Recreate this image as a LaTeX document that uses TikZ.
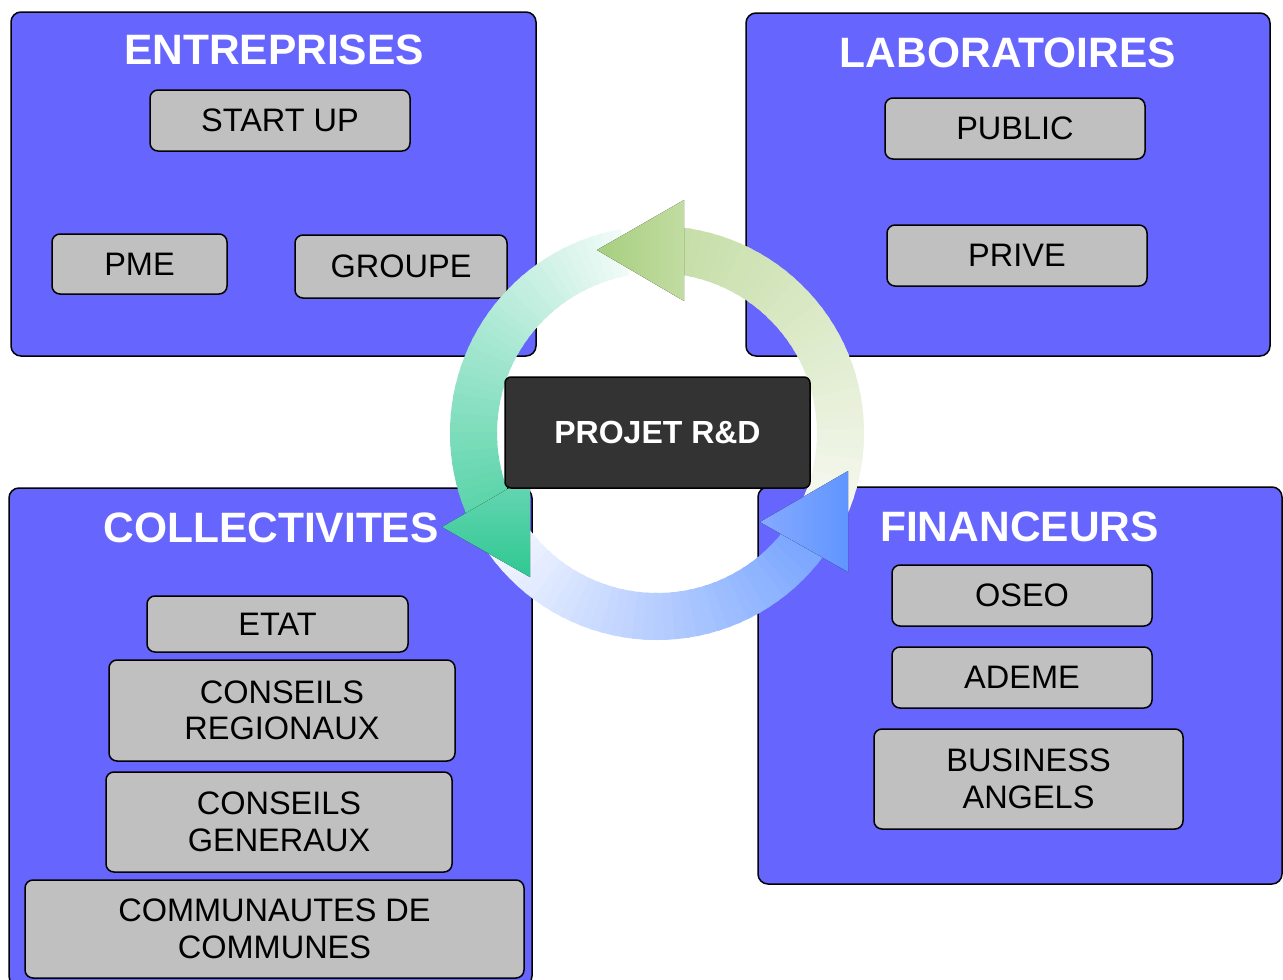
\documentclass[tikz,border=0pt]{standalone}
\usepackage{fontspec}
\setmainfont{Liberation Sans}
\usepackage{tikz}
\definecolor{groupblue}{HTML}{6666FF}
\definecolor{itemgray}{HTML}{C0C0C0}
\definecolor{projdark}{HTML}{333333}
\definecolor{greentail}{HTML}{F6F8F0}
\definecolor{greenhead}{HTML}{C2DCA2}
\definecolor{greentip}{HTML}{A6CF7E}
\definecolor{tealtail}{HTML}{F0FAF7}
\definecolor{tealhead}{HTML}{52D2A6}
\definecolor{tealtop}{HTML}{6AD6B4}
\definecolor{tealtip}{HTML}{2EC892}
\definecolor{bluetail}{HTML}{F2F5FF}
\definecolor{bluehead}{HTML}{6E9EFF}
\definecolor{bluetip}{HTML}{86AAFF}
\definecolor{bluebase}{HTML}{6095FF}
\tikzset{node distance=82pt, auto,
  groupbox/.style={draw=black, line width=1.5pt, fill=groupblue, rounded corners=10pt, inner sep=0pt},
  grouptitle/.style={text=white, font=\bfseries\fontsize{42.5}{48}\selectfont},
  itembox/.style={draw=black, line width=1.5pt, fill=itemgray, rounded corners=8pt, inner sep=0pt,
    align=center, font=\fontsize{32.5}{36.5}\selectfont}}
% ring part: start angle, end angle, tail colour, head colour
\newcommand{\ringpart}[4]{%
  \foreach \k in {0,...,39}{
    \pgfmathsetmacro{\ra}{#1+(#2-#1)*\k/40}
    \pgfmathsetmacro{\rb}{#1+(#2-#1)*(\k+1.4)/40}
    \pgfmathtruncatemacro{\rp}{100*\k/39}
    \fill[#4!\rp!#3] (\ra:207pt) arc[start angle=\ra, end angle=\rb, radius=207pt]
      -- (\rb:160pt) arc[start angle=\rb, end angle=\ra, radius=160pt] -- cycle;
  }}
\begin{document}
\begin{tikzpicture}[x=1pt, y=1pt]
  \useasboundingbox (0,0) rectangle (1283,-980);
  % groups
  \node[groupbox, minimum width=525pt, minimum height=344pt] (ent) at (273.5,-184) {};
  \node[groupbox, minimum width=524pt, minimum height=343pt] (lab) at (1008,-184.5) {};
  \node[groupbox, minimum width=523pt, minimum height=498pt] (col) at (270.5,-737) {};
  \node[groupbox, minimum width=524pt, minimum height=397pt] (fin) at (1020,-685.5) {};
  \node[grouptitle] (entT) at (274,-50) {ENTREPRISES};
  \node[grouptitle] (labT) at (1008,-53) {LABORATOIRES};
  \node[grouptitle] (colT) at (271,-528) {COLLECTIVITES};
  \node[grouptitle] (finT) at (1019.5,-527) {FINANCEURS};
  % entreprises
  \node[itembox, minimum width=260pt, minimum height=61pt] (startup) at (280,-120.5) {START UP};
  \node[itembox, minimum width=175pt, minimum height=60pt] (pme) at (139.5,-264) {PME};
  \node[itembox, minimum width=212pt, minimum height=63pt] (groupe) at (401,-266.5) {GROUPE};
  % laboratoires
  \node[itembox, minimum width=260pt, minimum height=61pt] (public) at (1015,-128.5) {PUBLIC};
  \node[itembox, minimum width=260pt, minimum height=61pt] (prive) at (1017,-255.5) {PRIVE};
  % collectivites
  \node[itembox, minimum width=261pt, minimum height=56pt] (etat) at (277.5,-624) {ETAT};
  \node[itembox, minimum width=346pt, minimum height=101pt] (regio) at (282,-710.5) {CONSEILS\\REGIONAUX};
  \node[itembox, minimum width=346pt, minimum height=100pt] (gene) at (279,-822) {CONSEILS\\GENERAUX};
  \node[itembox, minimum width=499pt, minimum height=98pt] (comm) at (274.5,-929) {COMMUNAUTES DE\\COMMUNES};
  % financeurs
  \node[itembox, minimum width=260pt, minimum height=61pt] (oseo) at (1022,-595.5) {OSEO};
  \node[itembox, minimum width=260pt, minimum height=61pt] (ademe) [below of=oseo] {ADEME};
  \node[itembox, minimum width=309pt, minimum height=100pt] (angels) at (1028.5,-779) {BUSINESS\\ANGELS};
  % cycle
  \begin{scope}[shift={(657,-433)}]
    \ringpart{215}{335}{bluetail}{bluehead}
    \ringpart{-25}{92}{greentail}{greenhead}
    \ringpart{100}{210}{tealtail}{tealhead}
  \end{scope}
  \fill[left color=greentip, right color=greenhead] (597,-250) -- (684,-200) -- (684,-301) -- cycle;
  \fill[top color=tealtop, bottom color=tealtip] (442,-527) -- (530,-476) -- (530,-577) -- cycle;
  \fill[left color=bluetip, right color=bluebase] (760,-522) -- (848,-471) -- (848,-572) -- cycle;
  \node[draw=black, line width=1.5pt, fill=projdark, rounded corners=6pt, inner sep=0pt,
    minimum width=305pt, minimum height=111pt, text=white,
    font=\bfseries\fontsize{32}{38}\selectfont] (projet) at (657.5,-432.5) {PROJET R\&D};
\end{tikzpicture}
\end{document}
